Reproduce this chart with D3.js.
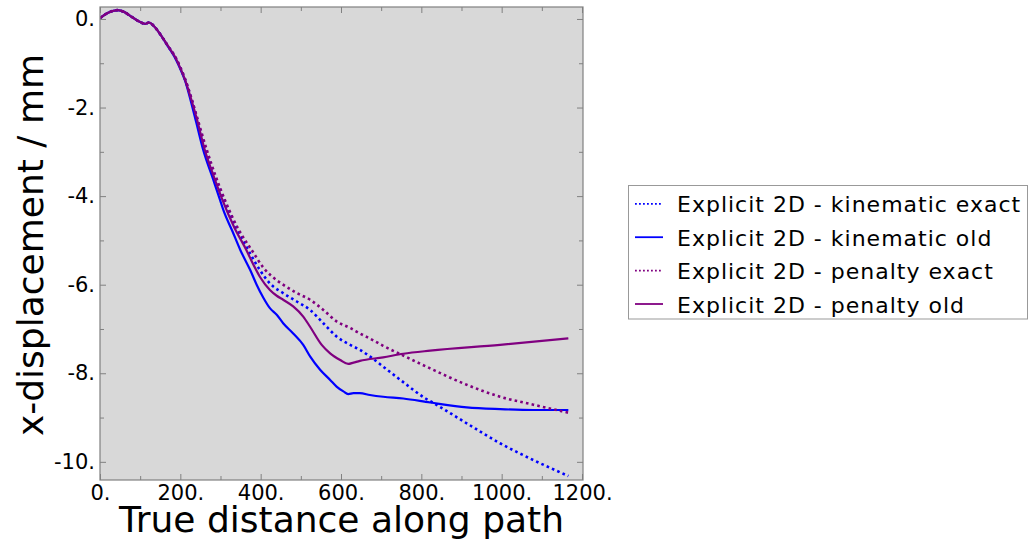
<!DOCTYPE html>
<html>
<head>
<meta charset="utf-8">
<script src="https://cdn.jsdelivr.net/npm/d3@7"></script>
<style>
  html, body { margin: 0; padding: 0; background: #ffffff; }
  svg { display: block; font-family: "DejaVu Sans", sans-serif; }
</style>
</head>
<body>
<svg id="chart" width="1029" height="540"></svg>
<script>
// Series: [distance along path, x-displacement in mm]
const kinematicExact = [
  [0, 0.02], [20, 0.14], [44, 0.20], [60, 0.16], [80, 0.04], [100, -0.07], [112, -0.11],
  [122, -0.08], [135, -0.17], [154, -0.40], [170, -0.62], [187, -0.86], [200, -1.10],
  [212, -1.37], [226, -1.76], [240, -2.20], [263, -2.96], [285, -3.55], [309, -4.09],
  [340, -4.72], [374, -5.30], [398, -5.67], [423, -5.97], [456, -6.19], [490, -6.38],
  [523, -6.57], [556, -6.87], [589, -7.17], [623, -7.36], [647, -7.47], [672, -7.62],
  [705, -7.85], [755, -8.20], [809, -8.56], [830, -8.67], [913, -9.13], [996, -9.58],
  [1079, -9.96], [1166, -10.32]
];
const kinematicOld = [
  [0, 0.02], [20, 0.14], [44, 0.20], [60, 0.16], [80, 0.04], [100, -0.07], [112, -0.11],
  [122, -0.08], [135, -0.17], [154, -0.40], [170, -0.63], [187, -0.88], [200, -1.13],
  [212, -1.40], [226, -1.85], [240, -2.35], [257, -2.96], [282, -3.63], [299, -4.09],
  [307, -4.31], [330, -4.80], [349, -5.21], [374, -5.67], [390, -6.00], [407, -6.30],
  [423, -6.53], [440, -6.68], [456, -6.87], [481, -7.10], [506, -7.36], [523, -7.62],
  [548, -7.92], [573, -8.15], [589, -8.30], [606, -8.41], [618, -8.47], [631, -8.45],
  [647, -8.45], [672, -8.49], [705, -8.53], [755, -8.57], [822, -8.66], [913, -8.77],
  [996, -8.81], [1079, -8.83], [1166, -8.83]
];
const penaltyExact = [
  [0, 0.02], [20, 0.14], [44, 0.20], [60, 0.16], [80, 0.04], [100, -0.07], [112, -0.11],
  [122, -0.08], [135, -0.17], [154, -0.40], [170, -0.62], [187, -0.85], [200, -1.09],
  [212, -1.36], [226, -1.74], [240, -2.17], [266, -2.96], [288, -3.55], [311, -4.09],
  [343, -4.72], [380, -5.25], [407, -5.62], [440, -5.90], [456, -6.00], [490, -6.19],
  [523, -6.34], [556, -6.57], [589, -6.83], [623, -6.98], [647, -7.10], [681, -7.26],
  [705, -7.38], [755, -7.60], [822, -7.89], [913, -8.26], [996, -8.53], [1079, -8.71],
  [1166, -8.89]
];
const penaltyOld = [
  [0, 0.02], [20, 0.14], [44, 0.20], [60, 0.16], [80, 0.04], [100, -0.07], [112, -0.11],
  [122, -0.08], [135, -0.17], [154, -0.40], [170, -0.62], [187, -0.86], [200, -1.11],
  [212, -1.38], [226, -1.78], [240, -2.22], [260, -2.93], [283, -3.55], [305, -4.09],
  [335, -4.72], [364, -5.21], [374, -5.40], [398, -5.82], [423, -6.12], [440, -6.25],
  [456, -6.34], [481, -6.49], [506, -6.72], [523, -6.95], [552, -7.36], [573, -7.55],
  [598, -7.70], [618, -7.79], [631, -7.76], [647, -7.72], [705, -7.64], [755, -7.56],
  [822, -7.49], [996, -7.36], [1166, -7.21]
];

const seriesNames = [
  "Explicit 2D - kinematic exact",
  "Explicit 2D - kinematic old",
  "Explicit 2D - penalty exact",
  "Explicit 2D - penalty old"
];
const seriesColors = ["#0000ff", "#0000ff", "#800080", "#800080"];
const seriesDotted = [true, false, true, false];
const seriesData = [kinematicExact, kinematicOld, penaltyExact, penaltyOld];

const xMajorTicks = [0, 200, 400, 600, 800, 1000, 1200];
const xMinorTicks = [100, 300, 500, 700, 900, 1100];
const yMajorTicks = [0, -2, -4, -6, -8, -10];
const yMinorTicks = [-1, -3, -5, -7, -9];

const xTitle = "True distance along path";
const yTitle = "x-displacement / mm";

// Layout
const plot = { left: 100, right: 583, top: 7, bottom: 480 };

const svg = d3.select("#chart");

const x = d3.scaleLinear().domain([0, 1202.5]).range([plot.left, plot.right]);
const y = d3.scaleLinear().domain([-10.41, 0.27]).range([plot.bottom, plot.top]);

// Plot background
svg.append("rect")
  .attr("x", plot.left).attr("y", plot.top)
  .attr("width", plot.right - plot.left).attr("height", plot.bottom - plot.top)
  .attr("fill", "#d8d8d8");

svg.append("clipPath").attr("id", "plotClip")
  .append("rect")
  .attr("x", plot.left).attr("y", plot.top)
  .attr("width", plot.right - plot.left).attr("height", plot.bottom - plot.top);

// Curves
const line = d3.line()
  .x(d => x(d[0]))
  .y(d => y(d[1]))
  .curve(d3.curveMonotoneX);

const curves = svg.append("g").attr("clip-path", "url(#plotClip)");
seriesData.forEach((data, i) => {
  curves.append("path")
    .datum(data)
    .attr("d", line)
    .attr("fill", "none")
    .attr("stroke", seriesColors[i])
    .attr("stroke-width", seriesDotted[i] ? 2.6 : 2.2)
    .attr("stroke-linejoin", "round")
    .attr("stroke-dasharray", seriesDotted[i] ? "2.6,3.2" : null);
});

// Frame axes with inward ticks on all four sides
const frameColor = "#808080";
const majorLen = 6, minorLen = 4;

function frameAxis(axisGen, transform) {
  const g = svg.append("g").attr("transform", transform).call(axisGen);
  g.select(".domain").remove();
  g.selectAll(".tick line").attr("stroke", frameColor).attr("stroke-width", 1);
  return g;
}

const fmt = d => d + ".";

// Bottom: labelled major ticks
const gBottom = frameAxis(
  d3.axisBottom(x).tickValues(xMajorTicks).tickSize(-majorLen).tickPadding(5).tickFormat(fmt),
  `translate(0,${plot.bottom})`);
gBottom.selectAll("text")
  .attr("font-family", "DejaVu Sans, sans-serif")
  .attr("font-size", 21).attr("fill", "#000");
frameAxis(d3.axisBottom(x).tickValues(xMinorTicks).tickSize(-minorLen).tickFormat(""),
  `translate(0,${plot.bottom})`);

// Top: unlabelled ticks
frameAxis(d3.axisTop(x).tickValues(xMajorTicks).tickSize(-majorLen).tickFormat(""),
  `translate(0,${plot.top})`);
frameAxis(d3.axisTop(x).tickValues(xMinorTicks).tickSize(-minorLen).tickFormat(""),
  `translate(0,${plot.top})`);

// Left: labelled major ticks
const gLeft = frameAxis(
  d3.axisLeft(y).tickValues(yMajorTicks).tickSize(-majorLen).tickPadding(5).tickFormat(fmt),
  `translate(${plot.left},0)`);
gLeft.selectAll("text")
  .attr("font-family", "DejaVu Sans, sans-serif")
  .attr("font-size", 21).attr("fill", "#000");
frameAxis(d3.axisLeft(y).tickValues(yMinorTicks).tickSize(-minorLen).tickFormat(""),
  `translate(${plot.left},0)`);

// Right: unlabelled ticks
frameAxis(d3.axisRight(y).tickValues(yMajorTicks).tickSize(-majorLen).tickFormat(""),
  `translate(${plot.right},0)`);
frameAxis(d3.axisRight(y).tickValues(yMinorTicks).tickSize(-minorLen).tickFormat(""),
  `translate(${plot.right},0)`);

// Frame border
svg.append("rect")
  .attr("x", plot.left).attr("y", plot.top)
  .attr("width", plot.right - plot.left).attr("height", plot.bottom - plot.top)
  .attr("fill", "none").attr("stroke", frameColor).attr("stroke-width", 1.2);

// Axis titles
svg.append("text")
  .attr("x", (plot.left + plot.right) / 2).attr("y", 532)
  .attr("text-anchor", "middle")
  .attr("font-size", 36).attr("fill", "#000")
  .text(xTitle);

svg.append("text")
  .attr("transform", `translate(43,245) rotate(-90)`)
  .attr("text-anchor", "middle")
  .attr("font-size", 36).attr("fill", "#000")
  .text(yTitle);

// Legend
const legend = svg.append("g");
legend.append("rect")
  .attr("x", 628.5).attr("y", 185.5)
  .attr("width", 399).attr("height", 133.5)
  .attr("fill", "#ffffff").attr("stroke", "#999999").attr("stroke-width", 1);

const legendTop = 212.3, legendStep = 33.4;
seriesNames.forEach((name, i) => {
  const by = legendTop + i * legendStep;
  legend.append("line")
    .attr("x1", 635).attr("x2", 663)
    .attr("y1", by - 8.5).attr("y2", by - 8.5)
    .attr("stroke", seriesColors[i])
    .attr("stroke-width", 1.8)
    .attr("stroke-dasharray", seriesDotted[i] ? "1.8,2.2" : null);
  legend.append("text")
    .attr("x", 677).attr("y", by)
    .attr("font-size", 22).attr("letter-spacing", 1)
    .attr("fill", "#000")
    .text(name);
});
</script>
</body>
</html>
